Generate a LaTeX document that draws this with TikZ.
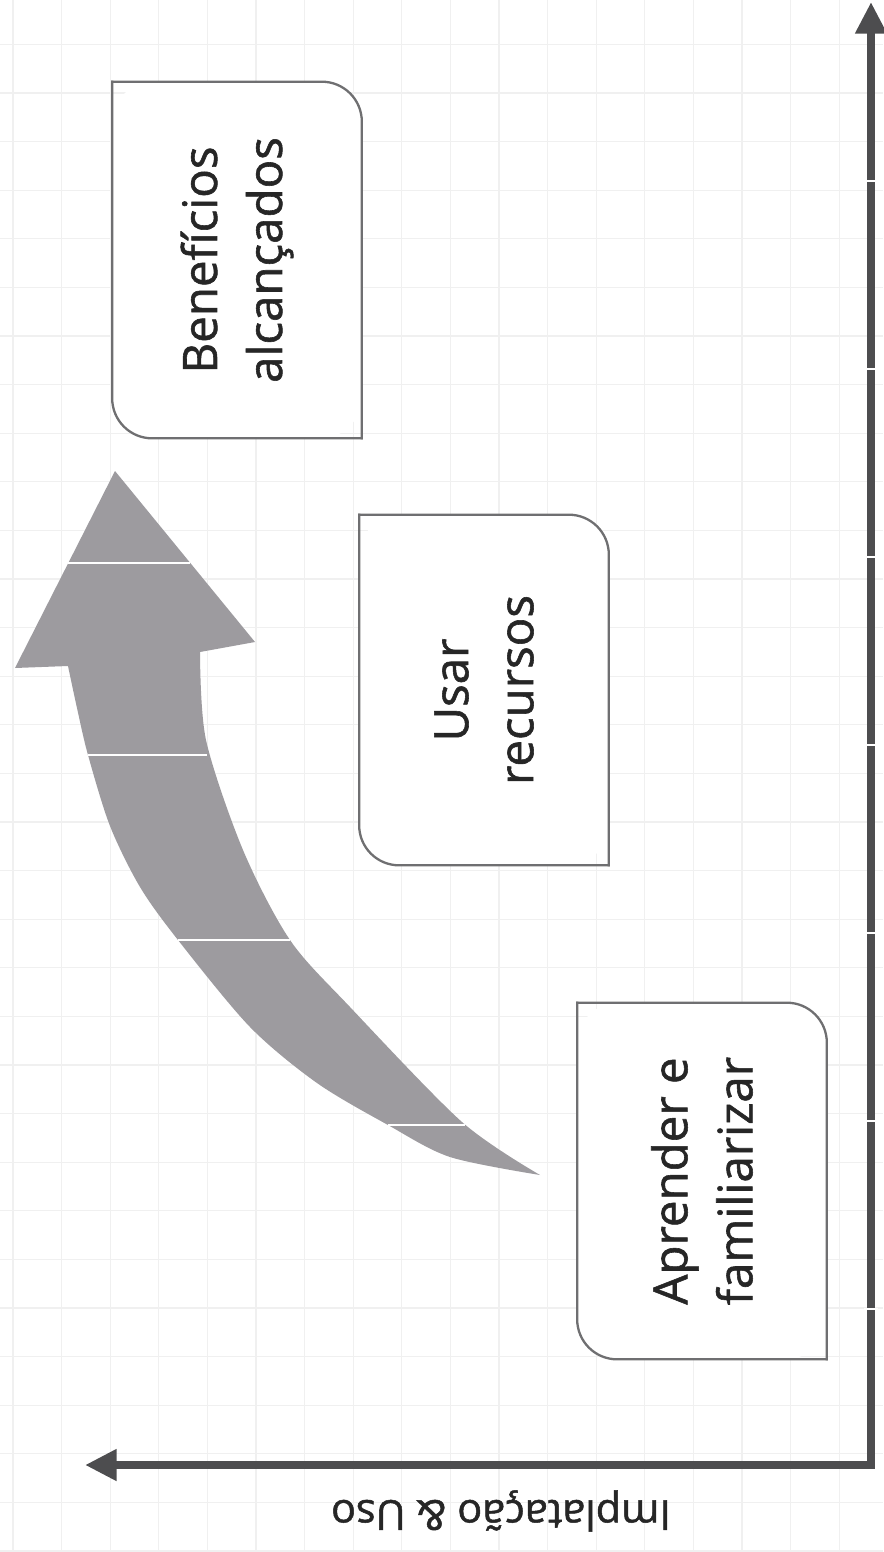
\documentclass[tikz,border=0pt]{standalone}
\usepackage{fontspec}
\setmainfont{Open Sans}[FakeBold=1.2]
\newfontfamily\stagefont{Open Sans}[FakeBold=1.2]
\usetikzlibrary{arrows.meta, positioning}
\definecolor{AxisGray}{HTML}{4D4D4F}
\definecolor{BoxGray}{HTML}{6F6F71}
\definecolor{ArrowGray}{HTML}{9D9B9F}
\definecolor{PaperGray}{HTML}{F0F0F0}

\begin{document}
\begin{tikzpicture}[x=0.02cm, y=-0.02cm,
stage/.style={
	rotate=90,
	fill=white,
	rounded corners=0.8cm,
	minimum width=7.12cm,
	minimum height=4.98cm,
	inner sep=0pt,
	align=center,
	font=\stagefont\fontsize{27}{37}\selectfont,
	text=black!85},
stageline/.style={
	draw=BoxGray,
	line width=1.3pt,
	rounded corners=0.8cm,
	line cap=rect},
axis/.style={
	draw=AxisGray,
	line width=5pt,
	line join=miter,
	{Triangle[width=17pt,length=18pt]}-{Triangle[width=17pt,length=18pt]}},
axistick/.style={
	draw=white,
	line width=1.2pt},
stripe/.style={
	draw=white,
	line width=1.6pt},
paper/.style={
	draw=PaperGray,
	line width=0.7pt}]

\useasboundingbox (0,0) rectangle (883,1552);
\fill[white] (0,0) rectangle (883,1552);

%Graph paper
\foreach \gx in {0,...,17}{
	\draw[paper] (13+\gx*48.6,0) -- (13+\gx*48.6,1552);
}
\foreach \gy in {0,...,31}{
	\draw[paper] (0,44.4+\gy*48.6) -- (883,44.4+\gy*48.6);
}

%Axes
\coordinate (origin) at (871,1465);
\coordinate (xend) at (85,1465);
\coordinate (yend) at (871,2);
\draw[axis] (xend) -- (origin) -- (yend);
\foreach \k in {0,...,6}{
	\draw[axistick] (864,181+\k*188) -- (878,181+\k*188);
}

\node[rotate=180, font=\stagefont\fontsize{23.5}{28}\selectfont, text=black!85] (axlabel) at (501,1511) {Implatação \& Uso};

%Curved arrow
\fill[ArrowGray] plot[smooth] coordinates {(540,1175) (462,1122) (350,1007) (290,940) (243,850) (206,740) (200,652)}
	-- (255,642) -- (115,471) -- (15,668)
	-- plot[smooth] coordinates {(68,666) (77,708) (88,755) (110,826) (140,887) (178,940) (250,1027) (317,1083) (388,1125) (450,1157) (540,1175)} -- cycle;

\draw[stripe] (68,563) -- (190,563);
\draw[stripe] (88,755) -- (207,755);
\draw[stripe] (178,940) -- (290,940);
\draw[stripe] (388,1125) -- (465,1125);

%Stages
\node[stage] (ben) at (237,260) {Benefícios\\alcançados};
\node[stage, minimum width=7cm] (usar) at (484,690) {Usar\\recursos};
\node[stage] (aprender) at (702,1181) {Aprender e\\familiarizar};

\foreach \s in {ben,usar,aprender}{
	\draw[stageline] (\s.north east) -- (\s.north west) -- (\s.south west);
	\draw[stageline] (\s.south west) -- (\s.south east) -- (\s.north east);
}

\end{tikzpicture}
\end{document}
